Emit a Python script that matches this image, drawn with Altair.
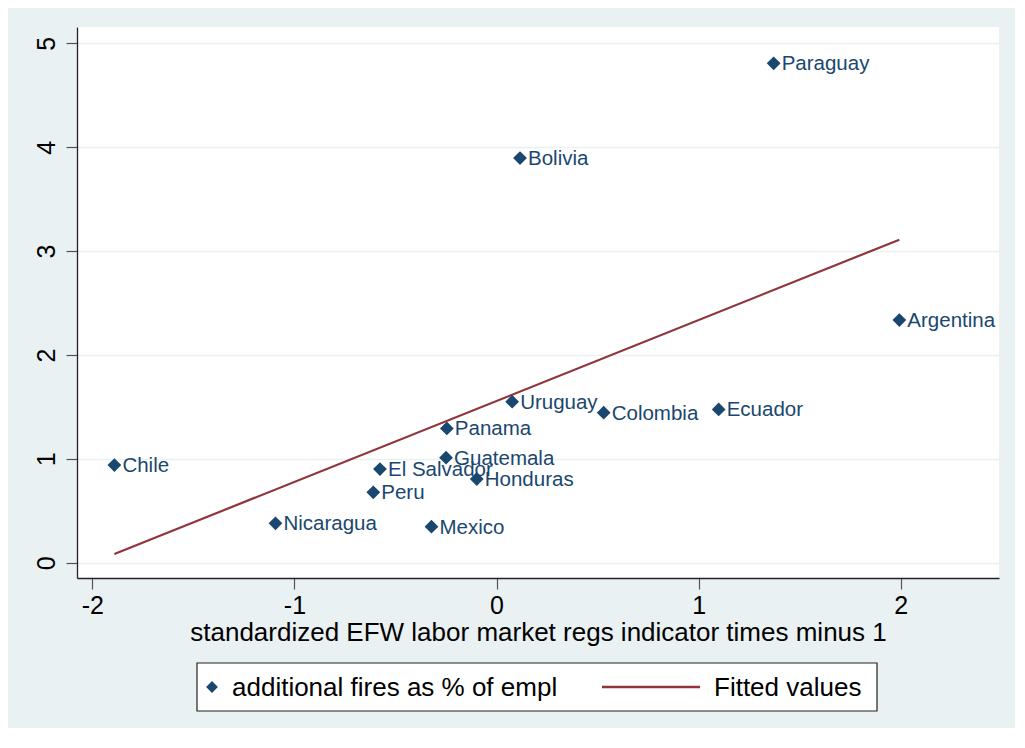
import altair as alt
import pandas as pd

countries = ["Paraguay", "Bolivia", "Argentina", "Uruguay", "Colombia", "Ecuador",
             "Panama", "Guatemala", "El Salvador", "Honduras", "Peru", "Mexico",
             "Nicaragua", "Chile"]
efw = [1.371, 0.116, 1.993, 0.077, 0.530, 1.099,
       -0.246, -0.250, -0.577, -0.098, -0.610, -0.322,
       -1.094, -1.891]
fires = [4.807, 3.895, 2.336, 1.550, 1.444, 1.476,
         1.293, 1.011, 0.902, 0.806, 0.678, 0.347,
         0.379, 0.940]

fit_x = [-1.891, 1.993]
fit_y = [0.084, 3.110]

x_ticks = [-2, -1, 0, 1, 2]
y_ticks = [0, 1, 2, 3, 4, 5]
x_title = "standardized EFW labor market regs indicator times minus 1"
legend_labels = ["additional fires as % of empl", "Fitted values"]

FONT = "Liberation Sans"
NAVY = "#1a476f"
MAROON = "#90353b"
BG = "#e9f1f3"

pts = pd.DataFrame({"country": countries, "x": efw, "y": fires})
fit = pd.DataFrame({"x": fit_x, "y": fit_y})

xs = alt.Scale(domain=[-2.076, 2.486], nice=False, zero=False)
ys = alt.Scale(domain=[-0.147, 5.157], nice=False, zero=False)

xenc = alt.X("x:Q", scale=xs, title=x_title,
             axis=alt.Axis(values=x_ticks, grid=False, tickSize=11, labelPadding=4,
                           titlePadding=1, labelFontSize=25, titleFontSize=26,
                           labelFlush=False, labelExpr="'' + datum.value"))
yenc = alt.Y("y:Q", scale=ys, title="",
             axis=alt.Axis(values=y_ticks, grid=True, tickSize=11, labelPadding=7,
                           labelAngle=270, labelFontSize=25, labelFlush=False,
                           labelExpr="'' + datum.value"))

points = alt.Chart(pts).mark_point(shape="diamond", filled=True, size=190,
                                   color=NAVY, opacity=1).encode(x=xenc, y=yenc)
labels = alt.Chart(pts).mark_text(align="left", baseline="middle", dx=8, dy=1,
                                  fontSize=20.5, font=FONT, color=NAVY).encode(
    x="x:Q", y="y:Q", text="country:N")
line = alt.Chart(fit).mark_line(color=MAROON, strokeWidth=2.2).encode(x="x:Q", y="y:Q")

# legend (drawn below the plot area)
leg1 = pd.DataFrame({"label": [legend_labels[0]]})
leg2 = pd.DataFrame({"label": [legend_labels[1]]})
box = alt.Chart(leg1).mark_rect(fill="white", stroke="#222222", strokeWidth=1.2).encode(
    x=alt.value(120), x2=alt.value(800), y=alt.value(636), y2=alt.value(684))
leg_pt = alt.Chart(leg1).mark_point(shape="diamond", filled=True, size=140,
                                    color=NAVY, opacity=1).encode(
    x=alt.value(135), y=alt.value(660))
leg_t1 = alt.Chart(leg1).mark_text(align="left", baseline="middle", fontSize=26,
                                   font=FONT, color="#000000").encode(
    x=alt.value(155), y=alt.value(661), text="label:N")
leg_rule = alt.Chart(leg2).mark_rule(color=MAROON, strokeWidth=2.5).encode(
    x=alt.value(525), x2=alt.value(623), y=alt.value(660))
leg_t2 = alt.Chart(leg2).mark_text(align="left", baseline="middle", fontSize=26,
                                   font=FONT, color="#000000").encode(
    x=alt.value(637), y=alt.value(661), text="label:N")

chart = alt.layer(line, points, labels, box, leg_pt, leg_t1, leg_rule, leg_t2).properties(
    width=922, height=551,
    autosize=alt.AutoSizeParams(type="none"),
    padding={"left": 69, "top": 19, "right": 16, "bottom": 150},
    background=BG,
).configure_view(fill="white", strokeWidth=0).configure_axis(
    labelFont=FONT, titleFont=FONT, labelColor="#000000", titleColor="#000000",
    titleFontWeight="normal", domainColor="#222222", domainWidth=1.3,
    tickColor="#555555", tickWidth=1.2, gridColor=BG, gridWidth=1.5,
)

chart.save("out.html", embed_options={"renderer": "svg", "actions": False})
